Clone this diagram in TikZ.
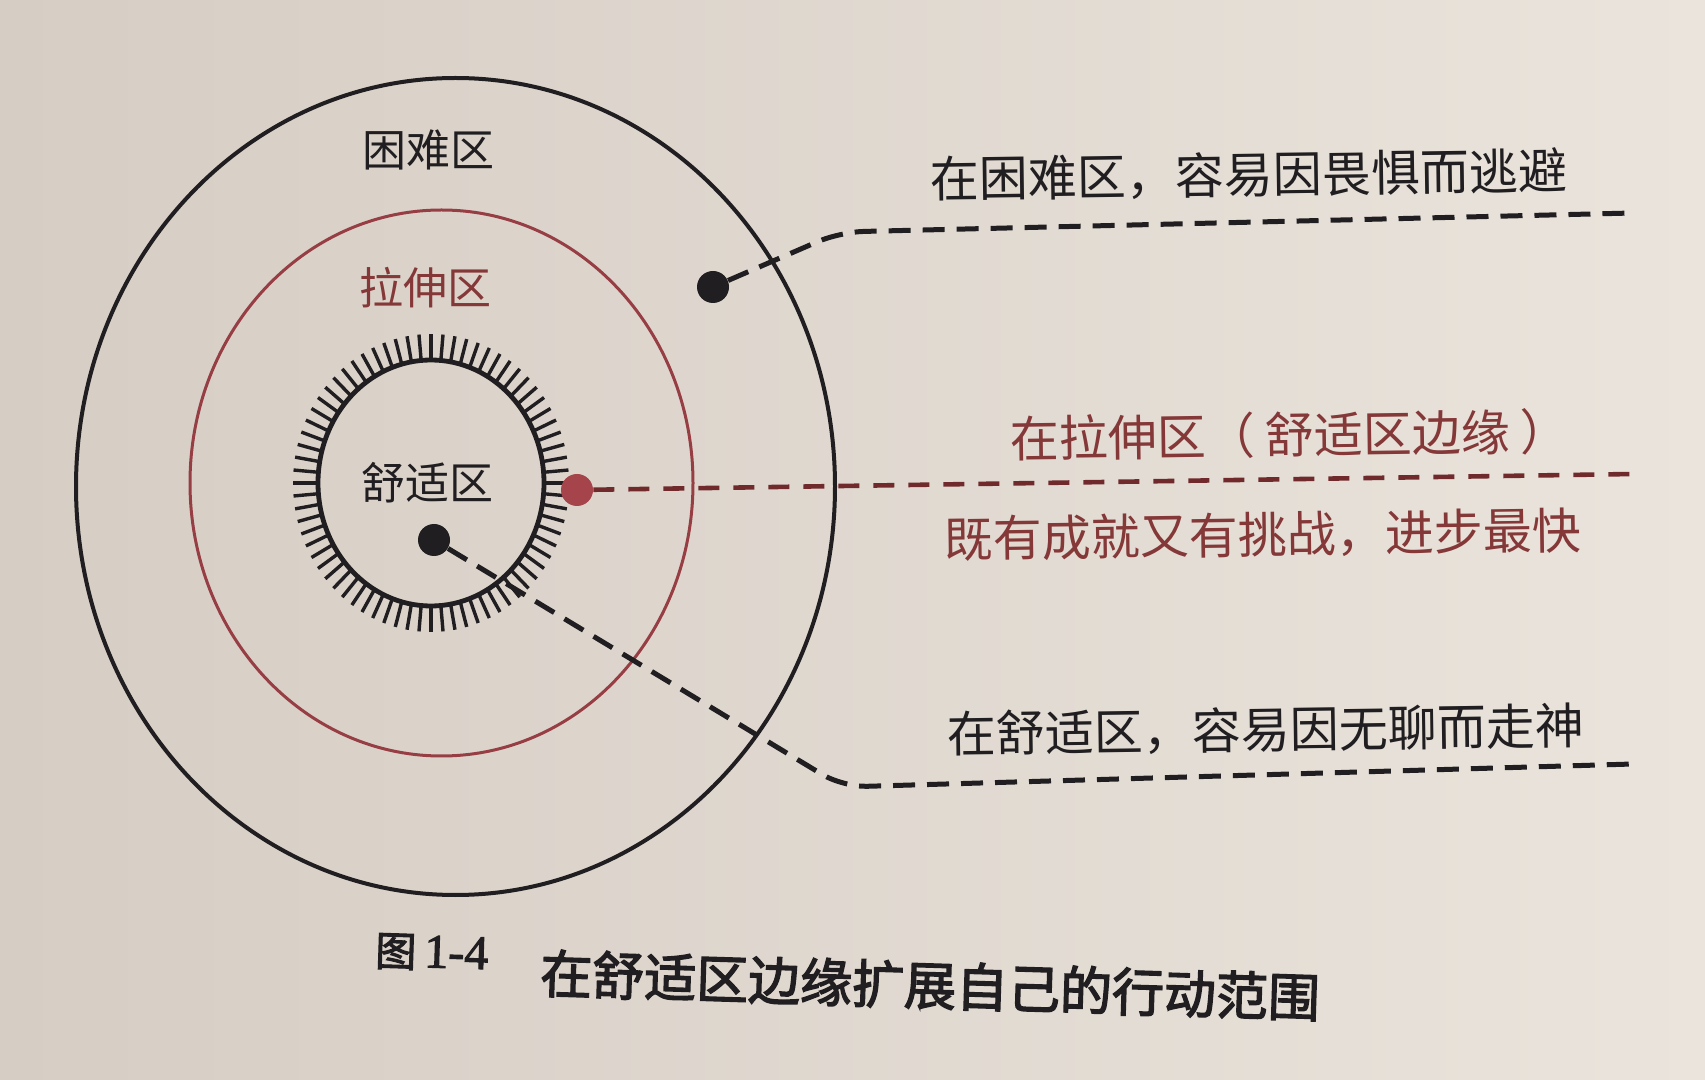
\documentclass[tikz,border=0pt]{standalone}
\usepackage{fontspec}
\newfontfamily\cjk{Noto Sans CJK SC}
\newfontfamily\cjkb[FakeBold=2.6]{Noto Sans CJK SC}
\newfontfamily\sernum[FakeBold=2.2]{Liberation Serif}
\definecolor{ink}{RGB}{32,30,32}
\definecolor{zred}{RGB}{150,62,68}
\definecolor{tred}{RGB}{132,56,56}
\definecolor{dotred}{RGB}{165,68,74}
\definecolor{dashred}{RGB}{112,42,44}
\definecolor{paperL}{RGB}{214,205,196}
\definecolor{paperR}{RGB}{234,228,220}
\tikzset{
  lab/.style={font=\cjk\fontsize{22pt}{26pt}\selectfont, text=ink, inner sep=0pt},
  rtext/.style={font=\cjk\fontsize{24.5pt}{28pt}\selectfont, text=ink, inner sep=0pt, rotate=0.8},
  bdot/.style={circle, fill=ink, draw=none, minimum size=16pt, inner sep=0pt},
  rdot/.style={circle, fill=dotred, draw=none, minimum size=16pt, inner sep=0pt},
  dsh/.style={draw=ink, line width=2.5pt, dash pattern=on 11pt off 6pt},
  dshr/.style={draw=dashred, line width=2.3pt, dash pattern=on 10.5pt off 7pt},
}
\begin{document}
\begin{tikzpicture}[x=0.5pt,y=-0.5pt]
\useasboundingbox (0,0) rectangle (1705,1080);
\shade[left color=paperL, right color=paperR] (0,0) rectangle (1705,1080);

% zones
\draw[ink, line width=2pt] (455.5,486.5) ellipse [x radius=379.5, y radius=408.5];
\draw[zred, line width=1.5pt] (441.5,483) ellipse [x radius=251.5, y radius=273];
\draw[ink, line width=2.4pt] (431,483) ellipse [x radius=113, y radius=123];
\foreach \a in {0,5,...,355}
  \draw[ink, line width=1.7pt] ({431+113*cos(\a)},{483+123*sin(\a)}) -- ({431+138*cos(\a)},{483+149*sin(\a)});

% zone labels
\node[lab] (hard) at (428,150) {困难区};
\node[lab, text=tred] (stretch) at (425,288) {拉伸区};
\node[lab] (comfort) at (427,483) {舒适区};

% dots
\node[bdot] (d1) at (713,287) {};
\node[rdot] (d2) at (577,490) {};
\node[bdot] (d3) at (434,540) {};

% connectors
\coordinate (c1) at (840,232);
\coordinate (e1) at (1633,213);
\coordinate (e2) at (1633,474);
\coordinate (c3) at (843,787);
\coordinate (e3) at (1633,764);
\draw[dsh, rounded corners=12pt] (d1) -- (c1) -- (e1);
\draw[dshr] (d2) -- (e2);
\draw[dsh, rounded corners=12pt] (d3) -- (c3) -- (e3);

% right texts
\node[rtext] (t1) at (1249,175) {在困难区，容易因畏惧而逃避};
\node[rtext, text=tred] (t2) at (1290,435) {在拉伸区（\hspace{5pt}舒适区边缘\hspace{5pt}）};
\node[rtext, text=tred] (t3) at (1263,535) {既有成就又有挑战，进步最快};
\node[rtext] (t4) at (1266,730) {在舒适区，容易因无聊而走神};

% caption
\node[anchor=west, inner sep=0pt, rotate=-1.8, text=ink] (cap1) at (375,951)
  {\cjkb\fontsize{20.5pt}{24pt}\selectfont 图\hspace{4pt}{\sernum\fontsize{24pt}{26pt}\selectfont 1-4}};
\node[anchor=west, inner sep=0pt, rotate=-1.8, text=ink, font=\cjkb\fontsize{26pt}{28pt}\selectfont] (cap2) at (540,973)
  {在舒适区边缘扩展自己的行动范围};
\end{tikzpicture}
\end{document}
